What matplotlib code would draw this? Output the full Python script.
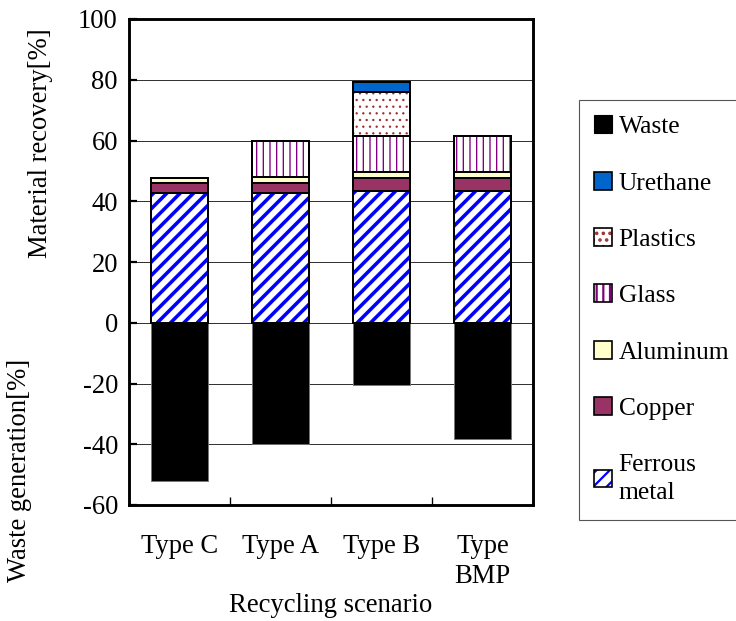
import numpy as np
import matplotlib
matplotlib.use('Agg')
import matplotlib.pyplot as plt
from matplotlib.patches import Patch

plt.rcParams['font.family'] = ['Liberation Serif', 'DejaVu Serif']
plt.rcParams['font.size'] = 24
plt.rcParams['axes.unicode_minus'] = False
plt.rcParams['hatch.linewidth'] = 2.0

# data
categories = ['Type C', 'Type A', 'Type B', 'Type\nBMP']
ferrous = np.array([42.8, 42.8, 43.3, 43.3])
copper = np.array([3.1, 3.3, 4.4, 4.4])
aluminum = np.array([1.8, 1.8, 1.9, 1.9])
glass = np.array([0, 11.9, 11.8, 11.9])
plastics = np.array([0, 0, 14.6, 0])
urethane = np.array([0, 0, 3.1, 0])
waste = np.array([-52.2, -40.0, -20.5, -38.2])

pos = np.arange(len(categories))
w = 0.57

fig = plt.figure(figsize=(736 / 80, 621 / 80), dpi=80)
ax = fig.add_axes([129 / 736, 1 - 505 / 621, 404 / 736, 486 / 621])


def stack(vals, bottom, face, hatch=None, hcolor=None, hlw=2.0):
    m = vals > 0
    if hatch:
        bars = ax.bar(pos[m], vals[m], w, bottom=bottom[m], color=face,
                      edgecolor=hcolor, hatch=hatch, linewidth=0, zorder=2)
        for p in bars:
            p.set_hatch_linewidth(hlw)
        ax.bar(pos[m], vals[m], w, bottom=bottom[m], facecolor='none',
               edgecolor='black', linewidth=1.8, zorder=3)
    else:
        ax.bar(pos[m], vals[m], w, bottom=bottom[m], color=face,
               edgecolor='black', linewidth=1.8, zorder=3)
    return bottom + vals


ax.bar(pos, waste, w, color='black', edgecolor='#777777', linewidth=0.8, zorder=3)
b = np.zeros(len(pos))
b = stack(ferrous, b, 'white', '//', '#0000ff', 3.2)
b = stack(copper, b, '#993366')
b = stack(aluminum, b, '#ffffcc')
b = stack(glass, b, 'white', '||', '#800080', 1.2)
b = stack(plastics, b, 'white', '..', '#a03030', 0.9)
b = stack(urethane, b, '#0066cc')

ax.set_xlim(-0.5, len(pos) - 0.5)
ax.set_ylim(-60, 100)
ax.set_yticks(np.arange(-60, 101, 20))
ax.set_xticks(pos)
ax.set_xticklabels(categories, linespacing=1.25)
ax.set_xticks(pos[:-1] + 0.5, minor=True)
ax.tick_params(axis='x', which='major', length=0, pad=26)
ax.tick_params(axis='x', which='minor', direction='in', length=7, width=1.2)
ax.tick_params(axis='y', direction='in', length=7, width=2, pad=10)
ax.grid(axis='y', color='#333333', linewidth=0.9, zorder=0)
ax.set_axisbelow(True)
for s in ax.spines.values():
    s.set_linewidth(2.6)

ax.set_xlabel('Recycling scenario', labelpad=4)
ax.text(-0.22, 59, 'Material recovery[%]', rotation=90, ha='center', va='center',
        transform=ax.get_yaxis_transform())
ax.text(-0.27, -48.5, 'Waste generation[%]', rotation=90, ha='center', va='center',
        transform=ax.get_yaxis_transform())

outline = dict(facecolor='none', edgecolor='black', linewidth=1.5)
handles = [
    Patch(facecolor='black', edgecolor='black'),
    Patch(facecolor='#0066cc', edgecolor='black', linewidth=1.5),
    (Patch(facecolor='white', edgecolor='#a03030', hatch='..', linewidth=0), Patch(**outline)),
    (Patch(facecolor='white', edgecolor='#800080', hatch='||', linewidth=0), Patch(**outline)),
    Patch(facecolor='#ffffcc', edgecolor='black', linewidth=1.5),
    Patch(facecolor='#993366', edgecolor='black', linewidth=1.5),
    (Patch(facecolor='white', edgecolor='#0000ff', hatch='//', linewidth=0), Patch(**outline)),
]
labels = ['Waste', 'Urethane', 'Plastics', 'Glass', 'Aluminum', 'Copper', 'Ferrous\nmetal']
leg = fig.legend(handles, labels, loc='upper left', bbox_to_anchor=(579 / 736, 1 - 100 / 621),
                 frameon=True, fancybox=False, edgecolor='#555555', framealpha=1,
                 fontsize=23, handlelength=0.7, handleheight=0.7, handletextpad=0.25,
                 labelspacing=1.31, borderpad=0.6, borderaxespad=0)
leg.get_frame().set_linewidth(1)
for t in leg.get_texts():
    t.set_linespacing(1.4)

fig.savefig('out.png', dpi=80)
